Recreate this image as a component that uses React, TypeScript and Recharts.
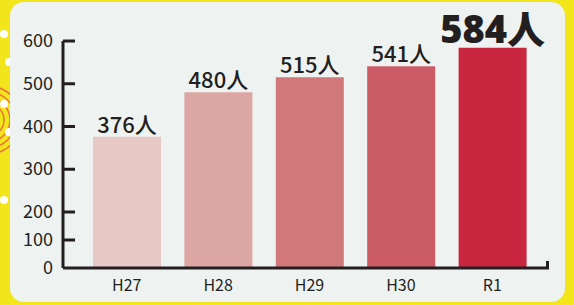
import React from 'react';
import { BarChart, Bar, XAxis, YAxis, Cell, LabelList } from 'recharts';

const years = ['H27', 'H28', 'H29', 'H30', 'R1'];
const people = [376, 480, 515, 541, 584];
const yTicks = [0, 100, 200, 300, 400, 500, 600];
const barColors = ['#e6c8c4', '#dca6a2', '#d1797a', '#cb5b64', '#c8263f'];

const data = years.map((year, i) => ({ year, people: people[i] }));

const FONT = '"Noto Sans CJK JP", "Noto Sans", sans-serif';
const BIG_FONT = '"Noto Sans", "Noto Sans CJK JP", sans-serif';
const INK = '#231f20';

// the printed axis squeezes 0-200 into a shorter stretch than 200-600
const BREAK = 200;
const LOWER_SHARE = 56 / 227;

function brokenScale(domain: number[] = [0, 600], range: number[] = [0, 1]): any {
  let d = [...domain];
  let r = [...range];
  const scale: any = (v: number) => {
    const t =
      v <= BREAK
        ? ((v - d[0]) / (BREAK - d[0])) * LOWER_SHARE
        : LOWER_SHARE + ((v - BREAK) / (d[1] - BREAK)) * (1 - LOWER_SHARE);
    return r[0] + t * (r[1] - r[0]);
  };
  scale.domain = (x?: number[]) => {
    if (x === undefined) return [...d];
    d = [...x].map(Number);
    return scale;
  };
  scale.range = (x?: number[]) => {
    if (x === undefined) return [...r];
    r = [...x];
    return scale;
  };
  scale.copy = () => brokenScale(d, r);
  scale.ticks = () => yTicks;
  scale.tickFormat = () => (v: number) => String(v);
  return scale;
}

const YTick = (props: any) => {
  const { x, y, payload } = props;
  return (
    <g>
      {payload.value !== 0 && (
        <line x1={x + 10} x2={x + 22} y1={y} y2={y} stroke={INK} strokeWidth={3} />
      )}
      <text x={x} y={y} dy={6} textAnchor="end" fontSize={18} fontFamily={FONT} fill={INK}>
        {payload.value}
      </text>
    </g>
  );
};

const ValueLabel = (props: any) => {
  const { x, y, width, value, index } = props;
  const last = index === people.length - 1;
  return (
    <text
      x={x + width / 2}
      y={y - (last ? 5 : 4)}
      textAnchor="middle"
      fontSize={last ? 38 : 22}
      fontWeight={last ? 900 : 500}
      fontFamily={last ? BIG_FONT : FONT}
      fill={INK}
    >
      {value}人
    </text>
  );
};

export default function App() {
  return (
    <div style={{ position: 'absolute', left: 0, top: 0, width: 574, height: 305, background: '#f3e51c', overflow: 'hidden' }}>
      <svg width={40} height={305} style={{ position: 'absolute', left: 0, top: 0 }}>
        {[16, 22, 28, 34].map((rad) => (
          <circle key={rad} cx={-12} cy={120} r={rad} fill="none" stroke="#e8753a" strokeWidth={1.5} />
        ))}
        {[34, 62, 104, 132, 200].map((cy, i) => (
          <circle key={cy} cx={i % 2 ? 9 : 4} cy={cy} r={4} fill="#fff" />
        ))}
      </svg>
      <div style={{ position: 'absolute', left: 10, top: 2, width: 555, height: 300, background: '#eef3f1', borderRadius: 14 }} />
      <div style={{ position: 'absolute', left: 0, top: 0 }}>
        <BarChart width={574} height={305} data={data} margin={{ top: 41, right: 25, bottom: 7, left: 13 }}>
          <XAxis
            dataKey="year"
            padding={{ left: 18, right: 11 }}
            axisLine={{ stroke: INK, strokeWidth: 3 }}
            tickLine={false}
            height={30}
            tickMargin={6}
            tick={{ fontSize: 16, fontFamily: FONT, fill: INK }}
          />
          <YAxis
            type="number"
            domain={[0, 600]}
            ticks={yTicks}
            scale={brokenScale()}
            width={50}
            axisLine={{ stroke: INK, strokeWidth: 3 }}
            tickLine={false}
            tickSize={0}
            tickMargin={10}
            tick={<YTick />}
            interval={0}
          />
          <Bar dataKey="people" barSize={68} isAnimationActive={false}>
            {data.map((d, i) => (
              <Cell key={d.year} fill={barColors[i]} />
            ))}
            <LabelList dataKey="people" content={<ValueLabel />} />
          </Bar>
        </BarChart>
      </div>
      <div style={{ position: 'absolute', left: 546, top: 261, width: 3, height: 8, background: INK }} />
    </div>
  );
}
